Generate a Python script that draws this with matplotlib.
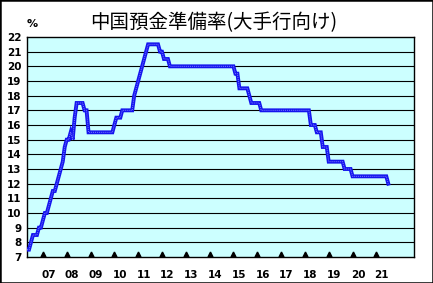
#%%
# 中国の預金準備率（大手行向け）の推移
import matplotlib.pyplot as plt
import matplotlib.patches as patches
import pandas as pd

# 変更月と、その月末時点の準備率(%)
change_months = ["2006-05", "2006-07", "2006-08", "2006-11",
                 "2007-01", "2007-02", "2007-04", "2007-05", "2007-06",
                 "2007-08", "2007-09", "2007-10", "2007-11", "2007-12",
                 "2008-01", "2008-03", "2008-04", "2008-05", "2008-06",
                 "2008-10", "2008-12",
                 "2010-01", "2010-02", "2010-05", "2010-11", "2010-12",
                 "2011-01", "2011-02", "2011-03", "2011-04", "2011-05",
                 "2011-06", "2011-12",
                 "2012-02", "2012-05",
                 "2015-02", "2015-04", "2015-09", "2015-10",
                 "2016-03",
                 "2018-04", "2018-07", "2018-10",
                 "2019-01", "2019-09",
                 "2020-01",
                 "2021-07"]
rates = [7.5, 8.0, 8.5, 9.0,
         9.5, 10.0, 10.5, 11.0, 11.5,
         12.0, 12.5, 13.0, 13.5, 14.5,
         15.0, 15.5, 15.0, 16.5, 17.5,
         17.0, 15.5,
         16.0, 16.5, 17.0, 18.0, 18.5,
         19.0, 19.5, 20.0, 20.5, 21.0,
         21.5, 21.0,
         20.5, 20.0,
         19.5, 18.5, 18.0, 17.5,
         17.0,
         16.0, 15.5, 14.5,
         13.5, 13.0,
         12.5,
         12.0]

years = list(range(2007, 2022))
year_labels = ["07", "08", "09", "10", "11", "12", "13", "14",
               "15", "16", "17", "18", "19", "20", "21"]
y_ticks = list(range(7, 23))

# 月次系列（変更のない月は前月の値のまま）
s = pd.Series(rates, index=pd.PeriodIndex(change_months, freq="M"))
s = s.reindex(pd.period_range(change_months[0], change_months[-1], freq="M")).ffill()
x = s.index.year + (s.index.month - 1) / 12

#%%
fig = plt.figure(figsize=(4.33, 2.83), dpi=100)
ax = fig.add_axes([27 / 433, 1 - 257 / 283, 387 / 433, 220 / 283])
ax.set_facecolor("#ccffff")

ax.plot(x, s.values, color="#1414ee", linewidth=2.8, solid_joinstyle="miter", zorder=3)
ax.plot(x, s.values, color="#7a7aff", linewidth=0.7, linestyle=(0, (1, 1)), zorder=4)

ax.set_xlim(2006.333, 2022.58)
ax.set_ylim(7, 22)

# 横線（目盛り線）
for v in y_ticks[1:-1]:
    ax.axhline(v, color="black", linewidth=0.8, zorder=1)

ax.set_yticks(y_ticks)
ax.set_yticklabels([str(v) for v in y_ticks], fontsize=7.5, fontweight="bold",
                   family="DejaVu Sans")
ax.tick_params(axis="y", length=0, pad=4)

ax.set_xticks([yr + 0.23 for yr in years])
ax.set_xticklabels(year_labels, fontsize=7.5, fontweight="bold", family="DejaVu Sans")
ax.tick_params(axis="x", length=0, pad=9)

# 年の区切りの三角マーク
ax.plot(years, [0.012] * len(years), "^", color="black", markersize=3.5,
        transform=ax.get_xaxis_transform(), clip_on=False, zorder=5)

for sp in ax.spines.values():
    sp.set_color("black")
    sp.set_linewidth(1)

fig.text(214 / 433, 1 - 23 / 283, "中国預金準備率(大手行向け)", ha="center", va="center",
         fontsize=14, family=["Noto Sans CJK JP", "DejaVu Sans"])
fig.text(32 / 433, 1 - 24 / 283, "%", ha="center", va="center",
         fontsize=8, fontweight="bold", family="DejaVu Sans")

fig.add_artist(patches.Rectangle((0, 0), 1, 1, transform=fig.transFigure,
                                 fill=False, edgecolor="black", linewidth=1.8))

fig.savefig("out.png", dpi=100)
